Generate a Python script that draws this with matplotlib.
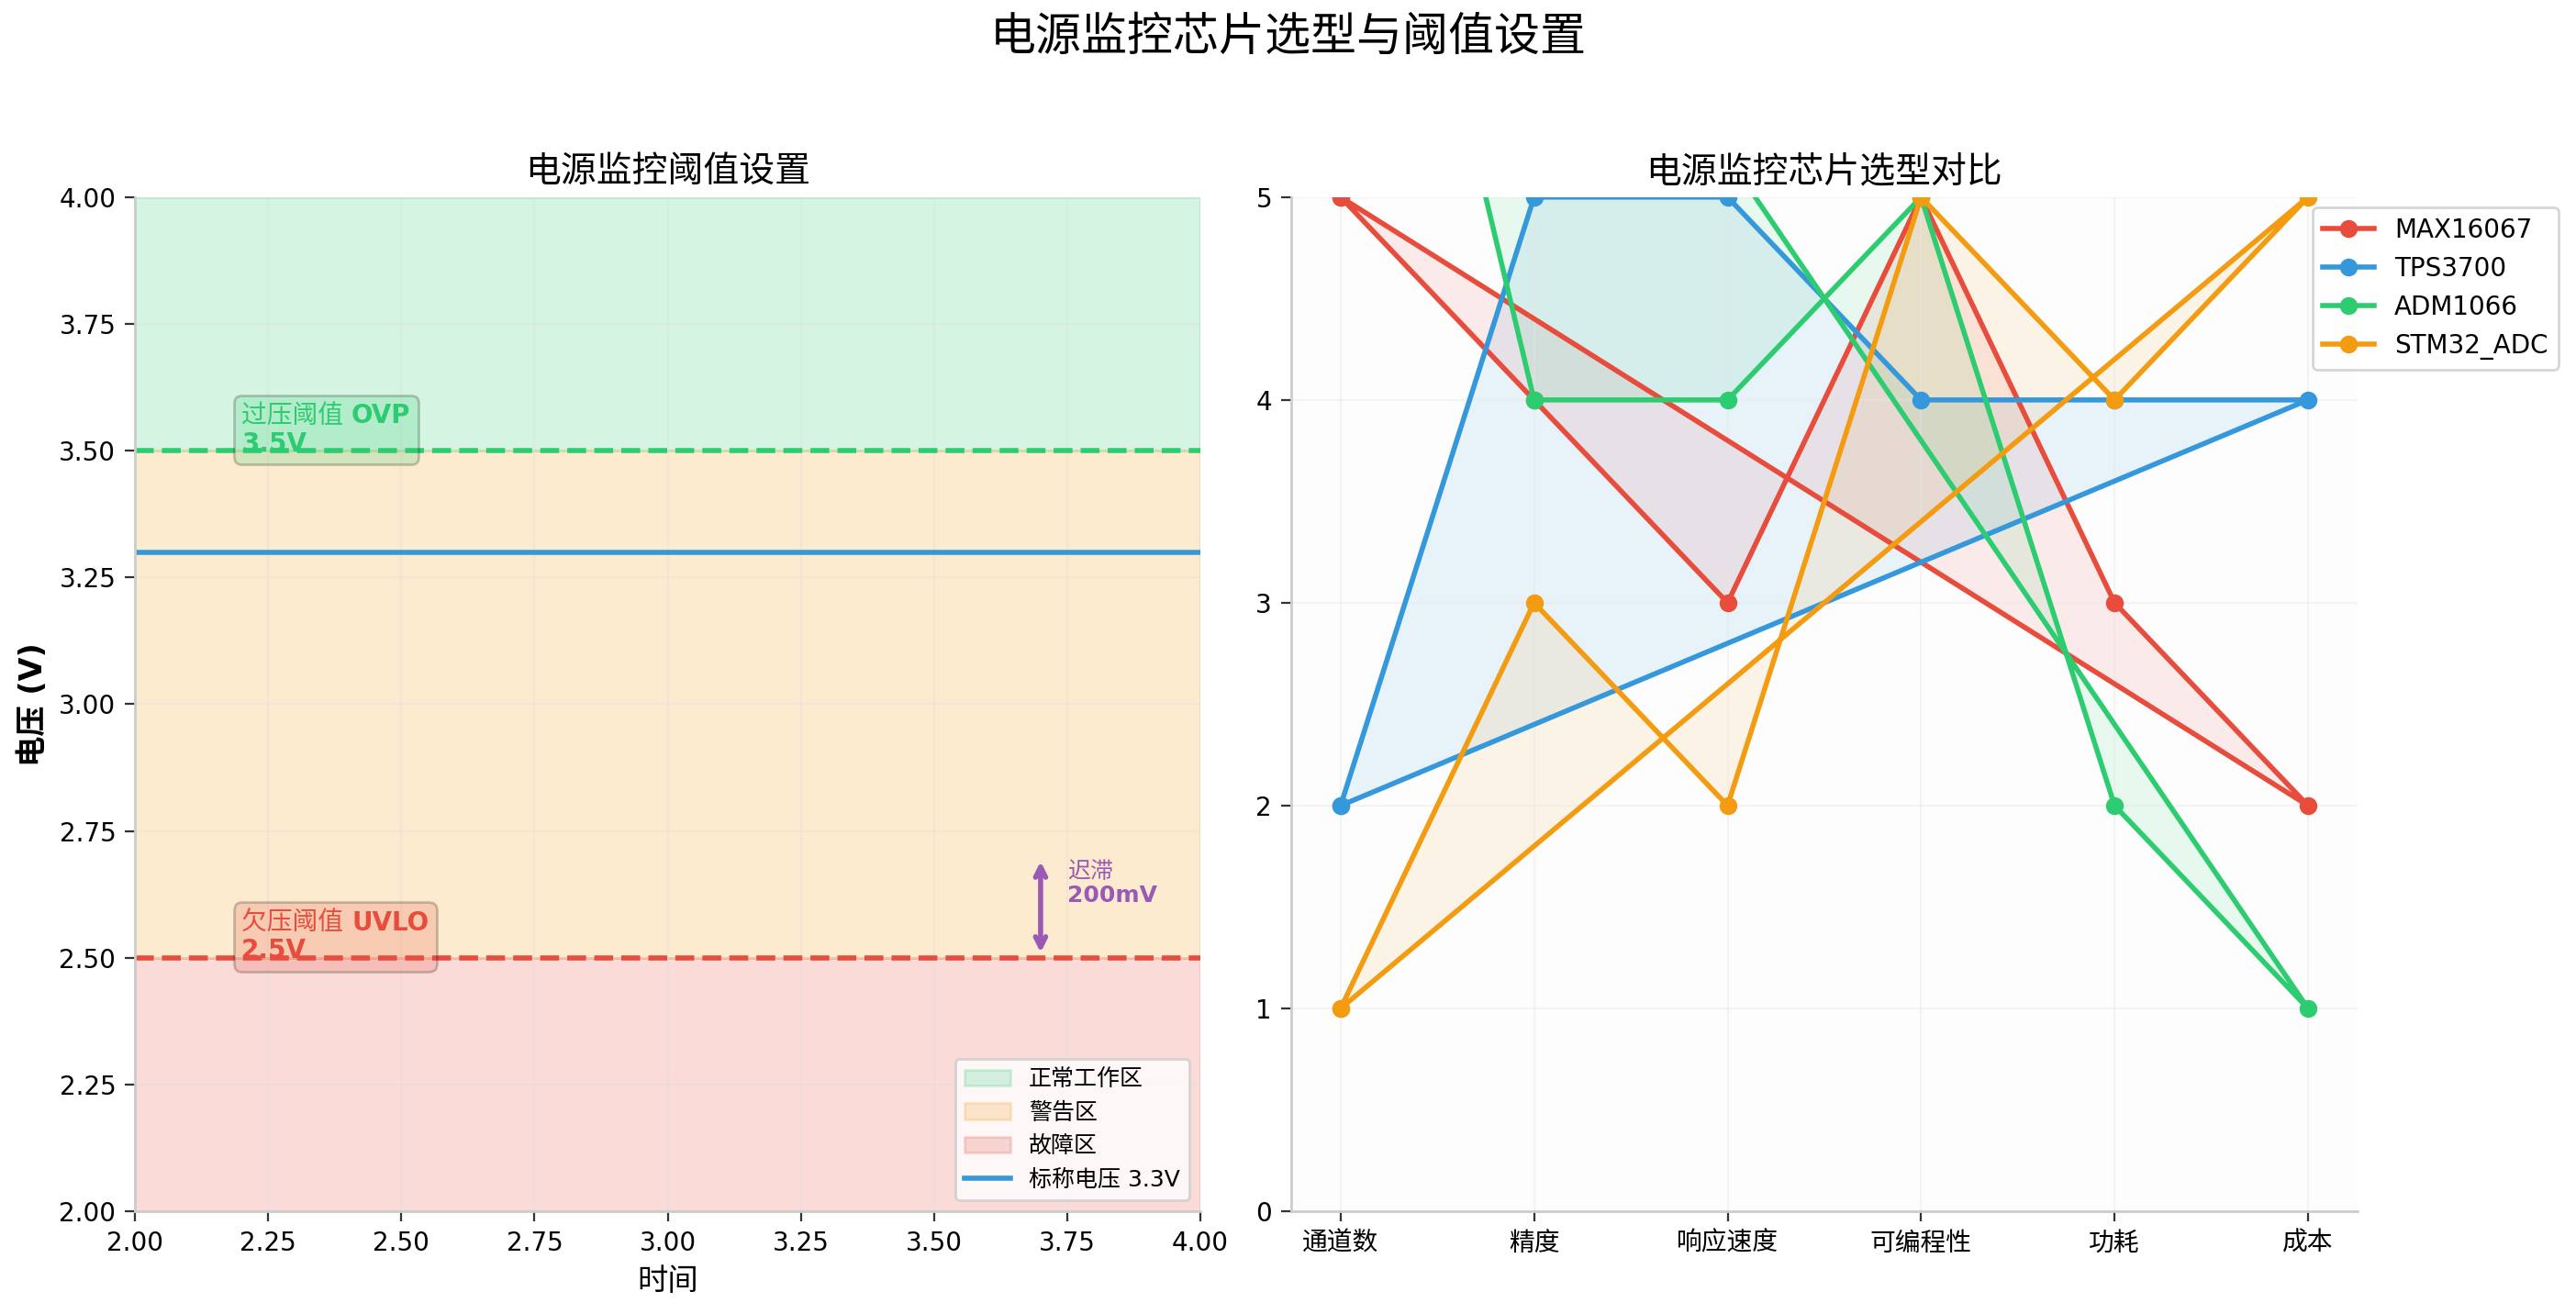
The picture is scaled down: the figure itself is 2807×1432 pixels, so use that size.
import matplotlib
matplotlib.use("Agg")
import matplotlib.pyplot as plt
from matplotlib.offsetbox import TextArea, HPacker, VPacker, AnnotationBbox
import numpy as np

plt.rcParams['font.family'] = ['DejaVu Sans', 'Noto Sans CJK SC']
plt.rcParams['axes.unicode_minus'] = False

# ---------------- data ----------------
zone_labels = ['正常工作区', '警告区', '故障区']
zone_ranges = [(3.5, 4.0), (2.5, 3.5), (2.0, 2.5)]
zone_colors = ['#2ecc71', '#f39c12', '#e74c3c']
nominal_v = 3.3
ovp_v = 3.5
uvlo_v = 2.5
hyst_top = 2.7

categories = ['通道数', '精度', '响应速度', '可编程性', '功耗', '成本']
chips = ['MAX16067', 'TPS3700', 'ADM1066', 'STM32_ADC']
max16067 = [5, 4, 3, 5, 3, 2]
tps3700 = [2, 5, 5, 4, 4, 4]
adm1066 = [8, 4, 4, 5, 2, 1]
stm32_adc = [1, 3, 2, 5, 4, 5]
chip_values = [max16067, tps3700, adm1066, stm32_adc]
chip_colors = ['#e74c3c', '#3498db', '#2ecc71', '#f39c12']

# ---------------- figure ----------------
fig = plt.figure(figsize=(14.035, 7.16), dpi=200)
ax1 = fig.add_axes([0.0524, 0.0782, 0.4136, 0.7718])
ax2 = fig.add_axes([0.5012, 0.0782, 0.4140, 0.7718])

fig.suptitle('电源监控芯片选型与阈值设置', fontsize=18, y=0.988)

spine_col = '#cccccc'
for ax in (ax1, ax2):
    for s in ('top', 'right'):
        ax.spines[s].set_visible(False)
    for s in ('left', 'bottom'):
        ax.spines[s].set_color(spine_col)
        ax.spines[s].set_linewidth(1.0)
    ax.tick_params(labelsize=10, length=4, color='#333333')


def mixed_label(ax, x, y, cjk, latin, second, color, fontsize=10, framed=True):
    reg = dict(color=color, fontsize=fontsize)
    bold = dict(color=color, fontsize=fontsize, fontweight='bold')
    rows = []
    if latin:
        rows.append(HPacker(children=[TextArea(cjk + ' ', textprops=reg),
                                      TextArea(latin, textprops=bold)],
                            pad=0, sep=0, align='baseline'))
    else:
        rows.append(TextArea(cjk, textprops=reg))
    rows.append(TextArea(second, textprops=bold))
    box = VPacker(children=rows, pad=0, sep=1, align='left')
    if framed:
        ab = AnnotationBbox(box, (x, y), xycoords='data', box_alignment=(0, 0),
                            frameon=True, pad=0.0, fontsize=fontsize,
                            bboxprops=dict(boxstyle='round,pad=0.3', facecolor=color,
                                           alpha=0.2, edgecolor='black'))
    else:
        ab = AnnotationBbox(box, (x, y), xycoords='data', box_alignment=(0, 0),
                            frameon=False, pad=0.0)
    ax.add_artist(ab)


# ---- left ----
for lab, (lo, hi), c in zip(zone_labels, zone_ranges, zone_colors):
    ax1.axhspan(lo, hi, color=c, alpha=0.2, label=lab)
ax1.axhline(nominal_v, color='#3498db', lw=2, label=f'标称电压 {nominal_v}V')
ax1.axhline(ovp_v, color='#2ecc71', lw=2, ls='--')
ax1.axhline(uvlo_v, color='#e74c3c', lw=2, ls='--')

mixed_label(ax1, 2.2, ovp_v - 0.012, '过压阈值', 'OVP', f'{ovp_v}V', '#2ecc71')
mixed_label(ax1, 2.2, uvlo_v - 0.012, '欠压阈值', 'UVLO', f'{uvlo_v}V', '#e74c3c')
ax1.annotate('', xy=(3.7, hyst_top), xytext=(3.7, uvlo_v),
             arrowprops=dict(arrowstyle='<->', color='#9b59b6', lw=2))
mixed_label(ax1, 3.75, 2.6, '迟滞', None, '200mV', '#9b59b6', fontsize=9, framed=False)

ax1.set_xlim(2, 4)
ax1.set_ylim(2, 4)
ax1.set_xticks(np.arange(2.0, 4.01, 0.25))
ax1.set_yticks(np.arange(2.0, 4.01, 0.25))
ax1.grid(True, color='#dddddd', alpha=0.3, lw=0.8)
ax1.set_xlabel('时间', fontsize=12)
ax1.set_ylabel('电压 (V)', fontsize=12, fontweight='bold')
ax1.set_title('电源监控阈值设置', fontsize=14)
leg1 = ax1.legend(loc='lower right', fontsize=9, frameon=True, fancybox=True)
leg1.get_frame().set_edgecolor('#cccccc')

# ---- right ----
ax2.set_facecolor('#fdfdfd')
x = np.arange(len(categories))
xc = np.concatenate([x, x[:1]])
for name, vals, c in zip(chips, chip_values, chip_colors):
    yc = list(vals) + [vals[0]]
    ax2.plot(xc, yc, 'o-', color=c, lw=2, markersize=6, label=name)
    ax2.fill(xc, yc, color=c, alpha=0.1)
ax2.set_xticks(x)
ax2.set_xticklabels(categories, fontsize=10)
ax2.set_xlim(-0.256, 5.256)
ax2.set_ylim(0, 5)
ax2.grid(True, color='#e6e6e6', alpha=0.4, lw=0.8)
ax2.set_title('电源监控芯片选型对比', fontsize=14)
leg2 = ax2.legend(loc='upper left', bbox_to_anchor=(0.958, 0.99), borderaxespad=0,
                  fontsize=10, frameon=True, fancybox=True)
leg2.get_frame().set_edgecolor('#cccccc')

fig.savefig('out.png', dpi=200)
